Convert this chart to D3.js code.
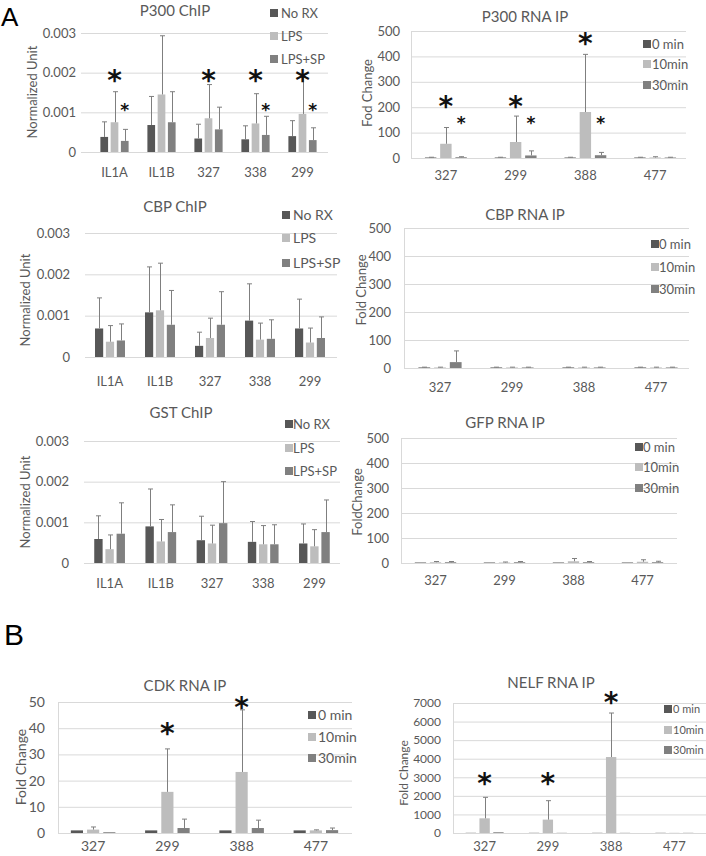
<!DOCTYPE html>
<html><head><meta charset="utf-8">
<script src="https://cdn.jsdelivr.net/npm/d3@7"></script>
<style>
body{margin:0;background:#fff}
svg{display:block}
text{font-family:Lato,"Open Sans",sans-serif;fill:#595959}
</style>
</head><body>
<svg id="c" width="706" height="856"></svg>
<script>
// ---------- DATA ----------
const chipCategories = ["IL1A", "IL1B", "327", "338", "299"];
const chipSeries = ["No RX", "LPS", "LPS+SP"];
const rnaCategories = ["327", "299", "388", "477"];
const rnaSeries = ["0 min", "10min", "30min"];

const chipTicks = [0, 0.001, 0.002, 0.003];
const chipTickLabels = ["0", "0.001", "0.002", "0.003"];
const rnaTicks = [0, 100, 200, 300, 400, 500];
const cdkTicks = [0, 10, 20, 30, 40, 50];
const nelfTicks = [0, 1000, 2000, 3000, 4000, 5000, 6000, 7000];

// P300 ChIP
const p300ChipNoRX = [0.00038, 0.00068, 0.00034, 0.00032, 0.00040];
const p300ChipLPS = [0.00075, 0.00145, 0.00085, 0.00072, 0.00096];
const p300ChipLPSSP = [0.00028, 0.00075, 0.00057, 0.00043, 0.00030];
const p300ChipErrNoRX = [0.00038, 0.00072, 0.00036, 0.00034, 0.00039];
const p300ChipErrLPS = [0.00077, 0.00148, 0.00085, 0.00075, 0.00094];
const p300ChipErrLPSSP = [0.00029, 0.00077, 0.00056, 0.00047, 0.00031];
const p300ChipStars = [
  {cat: "IL1A", s: 1, level: 0.00195, big: true}, {cat: "IL1A", s: 2, level: 0.00116, big: false},
  {cat: "327", s: 1, level: 0.00195, big: true},
  {cat: "338", s: 1, level: 0.00195, big: true}, {cat: "338", s: 2, level: 0.00116, big: false},
  {cat: "299", s: 1, level: 0.00195, big: true}, {cat: "299", s: 2, level: 0.00116, big: false}
];

// CBP ChIP
const cbpChipNoRX = [0.00069, 0.00108, 0.00027, 0.00088, 0.00069];
const cbpChipLPS = [0.00037, 0.00113, 0.00046, 0.00042, 0.00035];
const cbpChipLPSSP = [0.00040, 0.00078, 0.00078, 0.00044, 0.00046];
const cbpChipErrNoRX = [0.00074, 0.00110, 0.00033, 0.00089, 0.00071];
const cbpChipErrLPS = [0.00039, 0.00114, 0.00048, 0.00040, 0.00035];
const cbpChipErrLPSSP = [0.00040, 0.00083, 0.00080, 0.00046, 0.00051];

// GST ChIP
const gstChipNoRX = [0.00059, 0.00090, 0.00056, 0.00052, 0.00048];
const gstChipLPS = [0.00034, 0.00053, 0.00048, 0.00046, 0.00041];
const gstChipLPSSP = [0.00072, 0.00076, 0.00098, 0.00046, 0.00076];
const gstChipErrNoRX = [0.00057, 0.00092, 0.00059, 0.00050, 0.00048];
const gstChipErrLPS = [0.00035, 0.00054, 0.00045, 0.00046, 0.00041];
const gstChipErrLPSSP = [0.00076, 0.00067, 0.00102, 0.00048, 0.00079];

// P300 RNA IP
const p300Rna0 = [2, 2, 2, 2];
const p300Rna10 = [56, 63, 181, 2];
const p300Rna30 = [3, 10, 11, 2];
const p300RnaErr0 = [1, 1, 1, 1];
const p300RnaErr10 = [64, 102, 227, 3];
const p300RnaErr30 = [2, 18, 11, 1];
const p300RnaStars = [
  {cat: "327", s: 1, level: 228, big: true}, {cat: "327", s: 2, level: 150, big: false},
  {cat: "299", s: 1, level: 228, big: true}, {cat: "299", s: 2, level: 150, big: false},
  {cat: "388", s: 1, level: 476, big: true}, {cat: "388", s: 2, level: 150, big: false}
];

// CBP RNA IP
const cbpRna0 = [2, 2, 2, 2];
const cbpRna10 = [2, 2, 2, 2];
const cbpRna30 = [21, 2, 2, 2];
const cbpRnaErr0 = [1, 1, 1, 1];
const cbpRnaErr10 = [1, 1, 1, 1];
const cbpRnaErr30 = [40, 1, 1, 1];

// GFP RNA IP
const gfpRna0 = [2, 2, 2, 2];
const gfpRna10 = [3, 2, 7, 5];
const gfpRna30 = [3, 3, 3, 3];
const gfpRnaErr0 = [0, 0, 0, 0];
const gfpRnaErr10 = [3, 2, 11, 8];
const gfpRnaErr30 = [3, 3, 3, 4];

// CDK RNA IP
const cdkRna0 = [1, 1, 1, 1];
const cdkRna10 = [1.3, 15.7, 23.3, 1.0];
const cdkRna30 = [0.3, 1.9, 1.9, 1.1];
const cdkRnaErr0 = [0, 0, 0, 0];
const cdkRnaErr10 = [1.0, 16.4, 23.7, 0.2];
const cdkRnaErr30 = [0, 3.4, 3.0, 0.8];
const cdkRnaStars = [
  {cat: "299", s: 1, level: 40.3, big: true},
  {cat: "388", s: 1, level: 50.2, big: true}
];

// NELF RNA IP
const nelfRna0 = [10, 10, 10, 10];
const nelfRna10 = [790, 720, 4090, 10];
const nelfRna30 = [40, 10, 10, 10];
const nelfRnaErr0 = [0, 0, 0, 0];
const nelfRnaErr10 = [1130, 1020, 2370, 0];
const nelfRnaErr30 = [0, 0, 0, 0];
const nelfRnaStars = [
  {cat: "327", s: 1, level: 3016, big: true},
  {cat: "299", s: 1, level: 3016, big: true},
  {cat: "388", s: 1, level: 7380, big: true}
];

const seriesColors = ["#575757", "#bdbdbd", "#808080"];

// ---------- DRAW ----------
const svg = d3.select("#c");

function drawPanel(p) {
  const g = svg.append("g");
  const fs = p.fs || 13;
  const y = d3.scaleLinear().domain([0, p.yMax]).range([p.y0, p.y1]);
  const x0 = d3.scaleBand().domain(p.categories).range([p.bx0, p.bx1]);
  const gw = x0.step() * 0.6;
  const x1 = d3.scaleBand().domain(d3.range(p.series.length)).range([-gw / 2, gw / 2]).paddingInner(0.25);
  const cx = c => x0(c) + x0.bandwidth() / 2;

  // y axis with gridlines
  const ya = g.append("g").attr("transform", `translate(${p.gx0},0)`)
    .call(d3.axisLeft(y).tickValues(p.ticks).tickSize(-(p.gx1 - p.gx0))
      .tickPadding(p.gx0 - p.tickRight).tickFormat((d, i) => p.tickLabels ? p.tickLabels[i] : d));
  ya.select(".domain").remove();
  ya.selectAll(".tick line").attr("stroke", "#d9d9d9").attr("stroke-width", 1);
  ya.selectAll(".tick text").attr("font-size", p.tickFs || fs).attr("fill", "#595959")
    .style("font-family", "Lato, 'Open Sans', sans-serif");

  if (p.axisLine) {
    g.append("line").attr("x1", p.gx0 + 0.5).attr("x2", p.gx0 + 0.5)
      .attr("y1", p.y1).attr("y2", p.y0).attr("stroke", "#d9d9d9");
  }

  // bars
  p.values.forEach((vals, si) => {
    g.append("g").selectAll("rect").data(vals).join("rect")
      .attr("x", (v, ci) => cx(p.categories[ci]) + x1(si))
      .attr("width", x1.bandwidth())
      .attr("y", v => y(v))
      .attr("height", v => y(0) - y(v))
      .attr("fill", seriesColors[si]);
  });
  // error bars
  p.errors.forEach((errs, si) => {
    const eg = g.append("g").attr("stroke", "#7f7f7f").attr("stroke-width", 1);
    errs.forEach((e, ci) => {
      if (e <= 0) return;
      const v = p.values[si][ci];
      const xm = Math.round(cx(p.categories[ci]) + x1(si) + x1.bandwidth() / 2) + 0.5;
      const yt = y(v + e), yb = y(v);
      eg.append("line").attr("x1", xm).attr("x2", xm).attr("y1", yt).attr("y2", yb);
      eg.append("line").attr("x1", xm - 2.5).attr("x2", xm + 2.5).attr("y1", yt).attr("y2", yt);
    });
  });

  // category axis
  const xa = g.append("g").attr("transform", `translate(0,${p.y0})`)
    .call(d3.axisBottom(x0).tickSize(0));
  xa.select(".domain").remove();
  xa.selectAll(".tick text").attr("y", p.catY - p.y0).attr("dy", "0.36em")
    .attr("font-size", fs).attr("fill", "#595959")
    .style("font-family", "Lato, 'Open Sans', sans-serif");

  // title
  g.append("text").attr("x", p.title[1]).attr("y", p.title[2]).attr("dy", "0.36em")
    .attr("text-anchor", "middle").attr("font-size", p.tfs || 15).text(p.title[0]);
  // y label
  g.append("text").attr("transform", `translate(${p.ylab[1]},${p.ylab[2]}) rotate(-90)`)
    .attr("dy", "0.36em").attr("text-anchor", "middle").attr("font-size", p.yfs || fs).text(p.ylab[0]);

  // legend
  p.series.forEach((s, si) => {
    g.append("rect").attr("x", p.legend.sq).attr("y", p.legend.rows[si] - 4)
      .attr("width", 8).attr("height", 8).attr("fill", seriesColors[si]);
    g.append("text").attr("x", p.legend.tx).attr("y", p.legend.rows[si]).attr("dy", "0.36em")
      .attr("font-size", p.lfs || fs).text(s);
  });

  // significance asterisks
  (p.stars || []).forEach(st => {
    const sz = st.big ? 28 : 17;
    const xm = cx(st.cat) + x1(st.s) + x1.bandwidth() / 2;
    g.append("text").attr("x", xm).attr("y", y(st.level) + 0.56 * sz)
      .attr("text-anchor", "middle").attr("font-size", sz).attr("font-weight", "bold")
      .style("font-family", "'DejaVu Sans', sans-serif").style("fill", "#111").text("*");
  });
}

const panels = [
  {title: ["P300 ChIP", 175, 11], ylab: ["Normalized Unit", 32, 92], categories: chipCategories, series: chipSeries,
   values: [p300ChipNoRX, p300ChipLPS, p300ChipLPSSP], errors: [p300ChipErrNoRX, p300ChipErrLPS, p300ChipErrLPSSP],
   yMax: 0.003, ticks: chipTicks, tickLabels: chipTickLabels, gx0: 81, gx1: 328, bx0: 91, bx1: 326, y0: 152, y1: 33,
   tickRight: 76, catY: 172, legend: {sq: 270, tx: 281, rows: [13, 36, 59]}, stars: p300ChipStars},
  {title: ["P300 RNA IP", 525, 17], ylab: ["Fod Change", 367, 93], categories: rnaCategories, series: rnaSeries,
   values: [p300Rna0, p300Rna10, p300Rna30], errors: [p300RnaErr0, p300RnaErr10, p300RnaErr30],
   yMax: 500, ticks: rnaTicks, gx0: 411, gx1: 686, bx0: 411, bx1: 690, y0: 158, y1: 31, axisLine: true,
   tickRight: 400, catY: 175, legend: {sq: 643, tx: 652, rows: [44, 64, 85]}, stars: p300RnaStars},
  {title: ["CBP ChIP", 175, 207], ylab: ["Normalized Unit", 25, 300], categories: chipCategories, series: chipSeries,
   values: [cbpChipNoRX, cbpChipLPS, cbpChipLPSSP], errors: [cbpChipErrNoRX, cbpChipErrLPS, cbpChipErrLPSSP],
   yMax: 0.003, ticks: chipTicks, tickLabels: chipTickLabels, gx0: 85, gx1: 337, bx0: 85, bx1: 335, y0: 357, y1: 233,
   tickRight: 70, catY: 381, legend: {sq: 282, tx: 293, rows: [215, 238, 263]}, lfs: 14},
  {title: ["CBP RNA IP", 525, 215], ylab: ["Fold Change", 361, 290], categories: rnaCategories, series: rnaSeries,
   values: [cbpRna0, cbpRna10, cbpRna30], errors: [cbpRnaErr0, cbpRnaErr10, cbpRnaErr30],
   yMax: 500, ticks: rnaTicks, gx0: 404, gx1: 689, bx0: 404, bx1: 692, y0: 368, y1: 228, axisLine: true,
   tickRight: 391, catY: 387, legend: {sq: 651, tx: 659, rows: [244, 267, 289]}},
  {title: ["GST ChIP", 181, 413], ylab: ["Normalized Unit", 25, 502], categories: chipCategories, series: chipSeries,
   values: [gstChipNoRX, gstChipLPS, gstChipLPSSP], errors: [gstChipErrNoRX, gstChipErrLPS, gstChipErrLPSSP],
   yMax: 0.003, ticks: chipTicks, tickLabels: chipTickLabels, gx0: 84, gx1: 340, bx0: 84, bx1: 340, y0: 563, y1: 441,
   tickRight: 69, catY: 583, legend: {sq: 285, tx: 293, rows: [424, 448, 471]}},
  {title: ["GFP RNA IP", 505, 423], ylab: ["FoldChange", 357, 502], categories: rnaCategories, series: rnaSeries,
   values: [gfpRna0, gfpRna10, gfpRna30], errors: [gfpRnaErr0, gfpRnaErr10, gfpRnaErr30],
   yMax: 500, ticks: rnaTicks, gx0: 401, gx1: 677, bx0: 401, bx1: 677, y0: 563, y1: 438, axisLine: true,
   tickRight: 389, catY: 580, legend: {sq: 635, tx: 643, rows: [447, 467, 488]}},
  {title: ["CDK RNA IP", 185, 686], ylab: ["Fold Change", 21, 767], categories: rnaCategories, series: rnaSeries,
   values: [cdkRna0, cdkRna10, cdkRna30], errors: [cdkRnaErr0, cdkRnaErr10, cdkRnaErr30],
   yMax: 50, ticks: cdkTicks, gx0: 58, gx1: 352, bx0: 56, bx1: 353, y0: 833, y1: 702, axisLine: true, fs: 14,
   tickRight: 45, catY: 846, legend: {sq: 308, tx: 318, rows: [715, 737, 758]}, stars: cdkRnaStars},
  {title: ["NELF RNA IP", 551, 683], ylab: ["Fold Change", 404, 773], categories: rnaCategories, series: rnaSeries,
   values: [nelfRna0, nelfRna10, nelfRna30], errors: [nelfRnaErr0, nelfRnaErr10, nelfRnaErr30],
   yMax: 7000, ticks: nelfTicks, gx0: 453, gx1: 706, bx0: 453, bx1: 706, y0: 833, y1: 703, axisLine: true,
   tickFs: 12, yfs: 12, lfs: 11,
   tickRight: 441, catY: 846, legend: {sq: 664, tx: 673, rows: [709, 730, 750]}, stars: nelfRnaStars}
];
panels.forEach(drawPanel);

// panel letters
svg.append("text").attr("x", 1).attr("y", 26).attr("font-size", 26)
  .style("font-family", "'Liberation Sans', Arial, sans-serif").style("fill", "#000").text("A");
svg.append("text").attr("x", 4).attr("y", 645).attr("font-size", 30)
  .style("font-family", "'Liberation Sans', Arial, sans-serif").style("fill", "#000").text("B");
</script>
</body></html>
